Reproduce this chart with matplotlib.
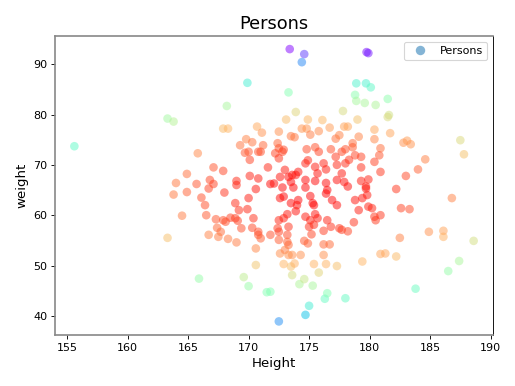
import numpy as np
import matplotlib
matplotlib.use("Agg")
import matplotlib.pyplot as plt
from matplotlib.lines import Line2D

height = [
    155.6, 163.3, 163.8, 168.2, 169.9, 167.9, 168.3, 173.4, 174.6, 174.4,
    179.75, 179.9, 173.3, 178.9, 179.7, 180.1, 178.8, 178.9, 179.6, 180.5,
    181.5, 181.6, 181.5, 173.9, 177.8, 173.1, 174.9, 176.1, 179.0, 187.5,
    187.8, 184.6, 184.0, 183.0, 182.2, 186.8, 182.8, 183.1, 183.4, 181.7,
    180.4, 180.4, 180.9, 179.1, 179.3, 178.8, 180.8, 180.4, 179.3, 180.9,
    179.3, 179.9, 179.7,
    170.7, 171.1, 172.5, 173.5, 173.8, 174.4, 174.8, 175.1, 175.8, 176.7,
    177.2, 177.5, 177.9, 178.2, 178.6, 165.8, 169.3, 169.8, 170.3, 169.7,
    170.0, 170.1, 170.8, 171.2, 171.0, 172.4, 172.5, 172.8, 172.2, 172.9,
    172.5, 171.6, 173.0, 174.8, 175.5, 175.8, 176.8, 177.2, 177.7, 178.0,
    178.6, 178.3, 174.7, 174.9, 174.1, 173.9, 175.5, 175.7, 176.2, 176.4,
    177.3, 177.7, 178.0, 167.1, 167.9, 164.9, 164.0, 165.7, 166.8, 167.1,
    169.0, 169.0, 170.1, 170.8, 163.8, 164.9, 166.1, 166.7, 168.0, 170.0,
    170.6, 171.8, 172.1, 172.6, 173.3, 173.6, 173.5, 174.7, 175.5, 176.4,
    177.3, 177.9, 178.2, 172.8, 173.7, 174.7, 176.5, 176.4,
    172.6, 172.9, 174.1, 174.0, 173.5, 173.9, 173.2, 175.4, 175.1, 175.3,
    176.9, 177.3, 178.8, 179.1, 179.4, 179.8, 179.7, 179.9, 180.2, 180.5,
    180.9, 180.4, 182.6, 183.3, 166.4, 168.9, 169.9, 169.2, 164.5, 166.5,
    167.3, 167.9, 168.1, 168.5, 168.9, 169.1, 169.4, 170.3, 170.4, 167.4,
    167.7, 166.7, 167.5, 168.3, 169.0, 163.3, 170.8, 170.6, 170.6, 172.5,
    172.9, 173.3, 172.4, 174.7, 175.1, 175.0, 175.4, 175.7, 175.5, 176.5,
    176.8, 177.5, 177.7, 178.7, 170.8, 171.8, 172.5, 173.2, 171.0, 172.5,
    173.2, 173.3, 175.2, 174.6, 174.9, 176.2, 176.7, 172.6, 173.0, 173.3,
    173.6, 174.3, 172.9, 173.5, 173.8, 173.6, 175.4, 175.8, 176.2, 176.4,
    177.3, 179.4, 180.9, 181.3, 182.2, 182.5, 184.9, 186.1, 186.1, 188.6,
    187.4, 186.5, 183.8, 174.2, 174.6, 175.3, 176.3, 176.5, 178.0, 175.0,
    174.7, 172.5, 171.8, 165.9, 169.6, 170.0, 171.5, 176.2, 178.2,
]

weight = [
    73.7, 79.2, 78.6, 81.7, 86.3, 77.2, 77.2, 93.0, 92.0, 90.4,
    92.4, 92.2, 84.4, 86.2, 86.2, 85.4, 83.9, 82.7, 82.3, 81.9,
    83.1, 79.9, 79.5, 80.5, 80.7, 79.0, 79.0, 78.9, 79.0, 74.9,
    72.1, 71.1, 69.1, 67.8, 65.2, 63.4, 74.4, 74.8, 74.1, 76.3,
    77.0, 75.1, 73.3, 75.6, 71.6, 71.9, 71.9, 70.6, 69.5, 68.6,
    66.8, 67.1, 65.7,
    77.6, 76.4, 76.6, 75.7, 75.5, 77.2, 77.2, 76.0, 76.7, 77.4,
    75.2, 75.9, 77.6, 77.6, 74.3, 72.3, 73.9, 75.1, 74.5, 72.4,
    72.6, 71.0, 72.6, 73.9, 72.6, 74.3, 73.3, 72.6, 72.3, 73.0,
    71.3, 69.5, 69.0, 73.1, 73.5, 72.6, 73.1, 71.6, 72.6, 73.1,
    73.5, 71.0, 70.3, 70.9, 68.6, 68.0, 69.6, 68.3, 70.3, 69.1,
    70.0, 68.3, 70.3, 69.5, 68.8, 68.2, 66.4, 66.2, 67.0, 66.2,
    66.8, 66.0, 67.8, 67.3, 64.1, 64.6, 63.5, 65.3, 64.5, 63.4,
    65.2, 66.2, 66.3, 67.6, 67.6, 68.0, 66.6, 67.0, 66.8, 66.4,
    67.0, 66.6, 65.7, 65.5, 65.5, 65.5, 65.0, 64.3,
    63.4, 63.7, 63.0, 62.0, 62.4, 60.8, 60.2, 62.0, 63.8, 62.4,
    63.0, 62.0, 63.0, 61.0, 63.4, 64.0, 65.3, 61.7, 61.4, 59.0,
    60.0, 59.7, 61.4, 61.2, 62.0, 62.4, 61.2, 61.0, 59.9, 60.0,
    59.2, 59.0, 58.7, 59.5, 59.4, 58.9, 57.4, 57.5, 59.4, 57.5,
    56.7, 56.1, 55.7, 55.3, 54.6, 55.5, 56.1, 53.4, 50.1, 59.0,
    59.4, 57.7, 57.4, 59.7, 59.0, 57.7, 58.1, 59.4, 60.2, 59.0,
    57.7, 57.4, 57.1, 58.6, 56.7, 56.1, 56.7, 56.1, 55.4, 55.1,
    54.7, 54.1, 56.2, 54.9, 54.4, 54.2, 54.2, 52.4, 53.1, 52.1,
    52.1, 52.1, 50.3, 49.8, 50.4, 48.1, 50.3, 48.6, 52.1, 50.3,
    49.9, 50.8, 52.3, 52.4, 51.8, 55.5, 56.7, 56.9, 55.7, 54.9,
    50.9, 48.9, 45.4, 46.3, 47.3, 46.0, 43.4, 44.5, 43.5, 42.0,
    40.2, 38.9, 44.8, 47.4, 47.7, 45.9, 44.7, 56.9, 56.8,
]

x_ticks = [155, 160, 165, 170, 175, 180, 185, 190]
y_ticks = [40, 50, 60, 70, 80, 90]

h = np.array(height)
w = np.array(weight)
dist_sq = (h - 175.0) ** 2 + (w - 64.5) ** 2

fig = plt.figure(figsize=(515 / 80, 386 / 80), dpi=80)
ax = fig.add_axes([55 / 515, 1 - 335 / 386, (493 - 55) / 515, (335 - 36) / 386])
ax.scatter(h, w, c=dist_sq, cmap="rainbow_r", alpha=0.5, s=60,
           edgecolors="none")
ax.set_xlim(154.0, 190.2)
ax.set_ylim(36.2, 95.6)
ax.set_xticks(x_ticks)
ax.set_yticks(y_ticks)
ax.set_title("Persons", fontsize=16)
ax.set_xlabel("Height", fontsize=12)
ax.set_ylabel("weight", fontsize=12)
for side in ["left", "top", "bottom"]:
    ax.spines[side].set_color("#888888")
    ax.spines[side].set_linewidth(1.5)
proxy = Line2D([], [], linestyle="none", marker="o", markersize=8.5,
               markerfacecolor="#1f77b4", markeredgecolor="none", alpha=0.55,
               label="Persons")
ax.legend(handles=[proxy], loc="upper right")
fig.savefig("out.png", dpi=80)
